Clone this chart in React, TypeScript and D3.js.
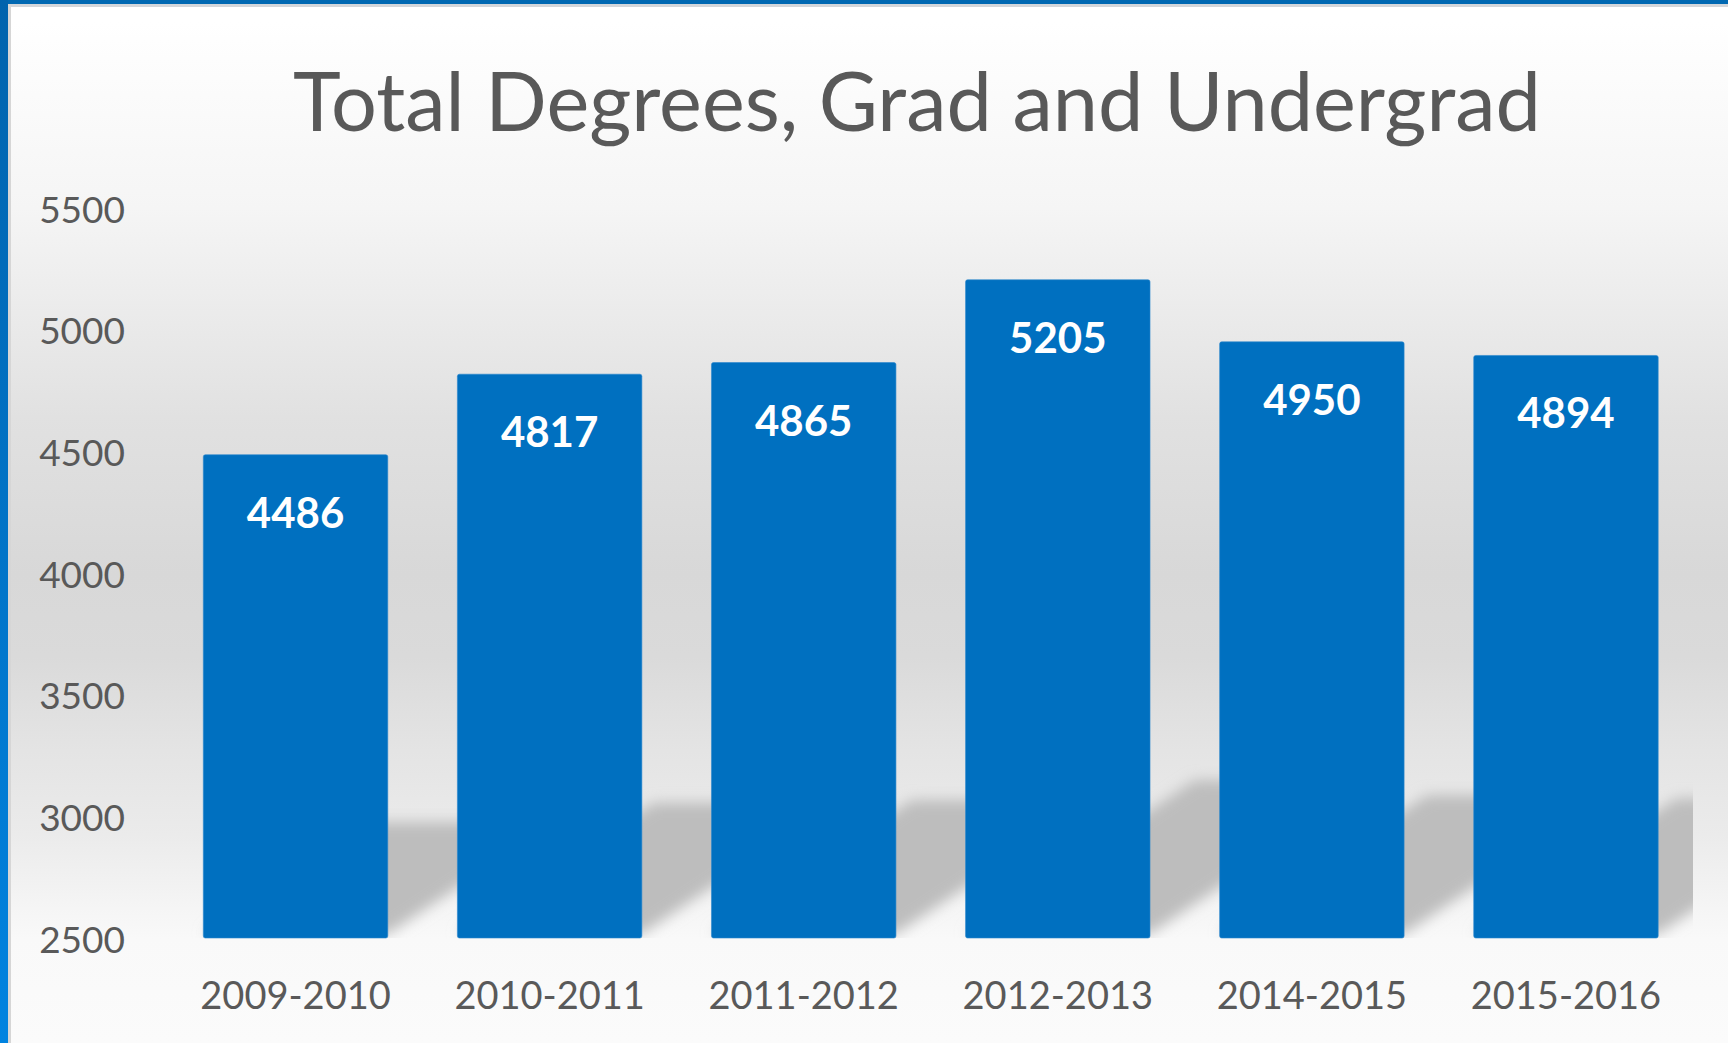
import React from "react";
import * as d3 from "d3";

const categories = ["2009-2010", "2010-2011", "2011-2012", "2012-2013", "2014-2015", "2015-2016"];
const values = [4486, 4817, 4865, 5205, 4950, 4894];
const yTicks = [2500, 3000, 3500, 4000, 4500, 5000, 5500];
const title = "Total Degrees, Grad and Undergrad";

const W = 1728;
const H = 1043;
const plotLeft = 168.5;
const plotRight = 1693;
const plotTop = 208;
const plotBottom = 938;

export default function App() {
  const x = d3.scaleBand<string>().domain(categories).range([plotLeft, plotRight]).paddingInner(0.274).paddingOuter(0.137);
  const y = d3.scaleLinear().domain([2500, 5500]).range([plotBottom, plotTop]);
  const font = "Lato, 'Open Sans', sans-serif";

  return (
    <svg width={W} height={H} style={{ position: "absolute", left: 0, top: 0, display: "block" }}>
      <defs>
        <linearGradient id="bg" x1="0" y1="0" x2="0" y2="1">
          <stop offset="0.02" stopColor="#ffffff" />
          <stop offset="0.2" stopColor="#f5f5f5" />
          <stop offset="0.4" stopColor="#e1e1e1" />
          <stop offset="0.55" stopColor="#d8d8d8" />
          <stop offset="0.63" stopColor="#dadada" />
          <stop offset="0.72" stopColor="#e4e4e4" />
          <stop offset="0.8" stopColor="#ebebeb" />
          <stop offset="0.9" stopColor="#f9f9f9" />
          <stop offset="1" stopColor="#fbfbfb" />
        </linearGradient>
        <linearGradient id="leftBorder" x1="0" y1="0" x2="0" y2="1">
          <stop offset="0" stopColor="#0063ad" />
          <stop offset="1" stopColor="#0083e0" />
        </linearGradient>
        <filter id="blur" x="-20%" y="-50%" width="140%" height="200%">
          <feGaussianBlur stdDeviation="7" />
        </filter>
        <clipPath id="plotClip">
          <rect x={plotLeft} y={0} width={plotRight - plotLeft} height={plotBottom} />
        </clipPath>
      </defs>
      <rect x={0} y={0} width={W} height={H} fill="url(#bg)" />
      {/* frame */}
      <rect x={8} y={4} width={W - 8} height={3} fill="#d3d6da" />
      <rect x={8} y={4} width={3} height={H - 4} fill="#d6d6d6" />
      <rect x={0} y={0} width={W} height={4} fill="#0068b2" />
      <rect x={0} y={0} width={8} height={H} fill="url(#leftBorder)" />

      <text x={917} y={131} textAnchor="middle" fontFamily={font} fontSize={81} fill="#595959">
        {title}
      </text>

      {/* shadows */}
      <g clipPath="url(#plotClip)">
        <g filter="url(#blur)">
          {categories.map((c, i) => {
            const x0 = x(c)!;
            const x1 = x0 + x.bandwidth();
            const barH = plotBottom - y(values[i]);
            const h = barH * 0.24;
            const dx = h * 1.45;
            const pts = [
              [x0, plotBottom - 4],
              [x1, plotBottom - 4],
              [x1 + dx, plotBottom - h],
              [x0 + dx, plotBottom - h],
            ];
            return <polygon key={c} points={pts.map((p) => p.join(",")).join(" ")} fill="#bdbdbd" />;
          })}
        </g>
      </g>

      {/* bars */}
      {categories.map((c, i) => (
        <rect
          key={c}
          x={x(c)!}
          y={y(values[i])}
          width={x.bandwidth()}
          height={plotBottom - y(values[i])}
          rx={2}
          fill="#0070c0"
          stroke="#2a86cc"
          strokeWidth={0.6}
        />
      ))}

      {/* data labels */}
      {categories.map((c, i) => (
        <text
          key={c}
          x={x(c)! + x.bandwidth() / 2}
          y={y(values[i]) + 57}
          textAnchor="middle"
          dominantBaseline="central"
          fontFamily={font}
          fontWeight={700}
          fontSize={42}
          fill="#ffffff"
        >
          {values[i]}
        </text>
      ))}

      {/* y axis labels */}
      {yTicks.map((t) => (
        <text
          key={t}
          x={125}
          y={y(t)}
          textAnchor="end"
          dominantBaseline="central"
          fontFamily={font}
          fontSize={37}
          fill="#595959"
        >
          {t}
        </text>
      ))}

      {/* x axis labels */}
      {categories.map((c) => (
        <text
          key={c}
          x={x(c)! + x.bandwidth() / 2}
          y={994}
          textAnchor="middle"
          dominantBaseline="central"
          fontFamily={font}
          fontSize={38}
          fill="#595959"
        >
          {c}
        </text>
      ))}
    </svg>
  );
}
